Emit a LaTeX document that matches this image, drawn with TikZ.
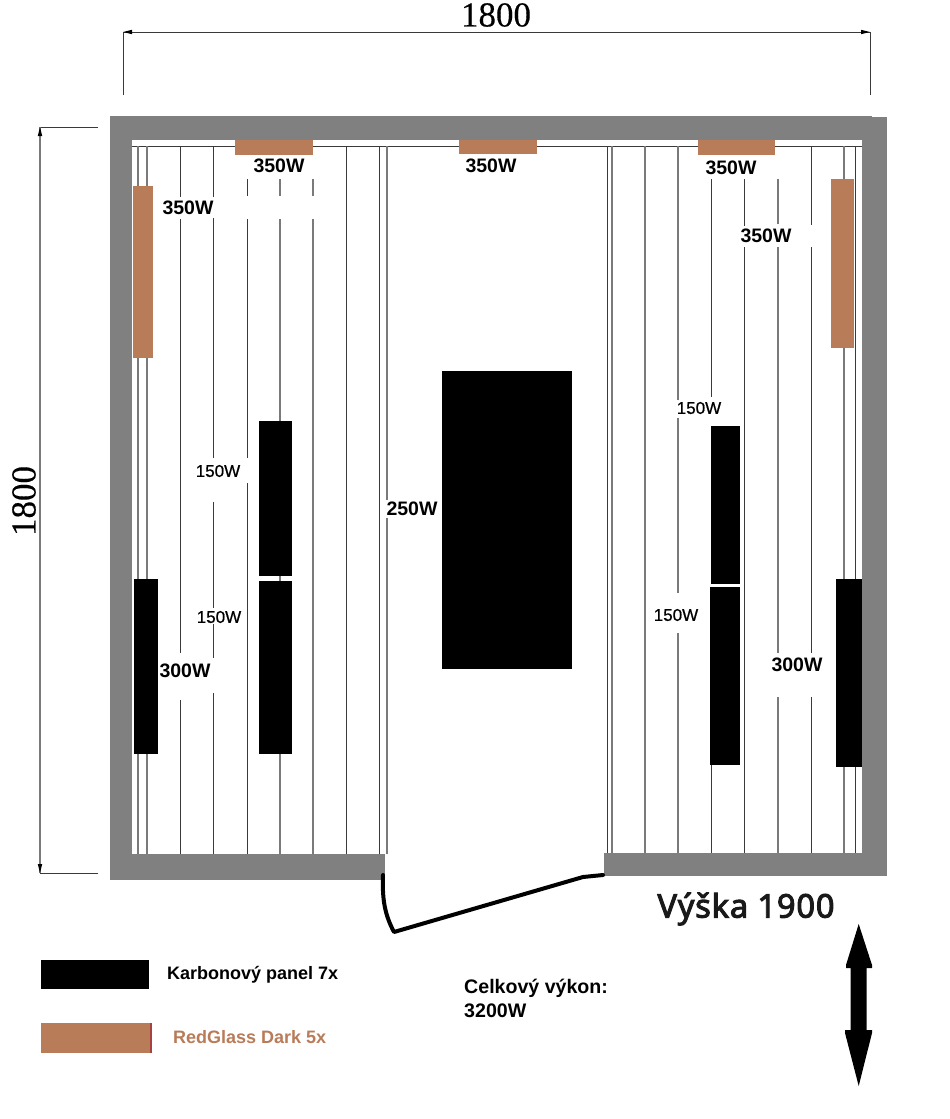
\documentclass[tikz,border=0pt]{standalone}
\usepackage{fontspec}
\setmainfont{Liberation Sans}
\newfontfamily\dimfont[FakeBold=0.4]{Liberation Serif}
\newfontfamily\heightfont[FakeBold=3,LetterSpace=2.5]{Noto Sans}
\newfontfamily\smallwatt[FakeBold=0.8]{Liberation Sans}
\definecolor{wallgray}{HTML}{808080}
\definecolor{copper}{HTML}{B97C59}
\definecolor{darkline}{HTML}{3A3A3A}
\definecolor{grayline}{HTML}{7A7A7A}
\tikzset{
  darkl/.style={draw=darkline,line width=1pt},
  grayl/.style={draw=grayline,line width=1.3pt},
  wall/.style={fill=wallgray,draw=none},
  redglass/.style={fill=copper,draw=none},
  carbon/.style={fill=black,draw=none},
  dimline/.style={draw=darkline,line width=0.9pt},
  tip/.style={fill=black,draw=none},
  wattb/.style={font=\fontsize{19.5}{22}\selectfont\bfseries,inner sep=0pt,text=black},
  wattr/.style={font=\fontsize{17}{20}\selectfont\smallwatt,inner sep=0pt,text=black},
  legend/.style={font=\fontsize{18}{24}\selectfont\bfseries,inner sep=0pt,anchor=west},
  dimtext/.style={font=\fontsize{35}{38}\selectfont\dimfont,inner sep=0pt}
}
\begin{document}
\begin{tikzpicture}[x=1pt,y=-1pt]
\useasboundingbox (0,0) rectangle (950,1119);
% slats, interrupted around labels
\draw[darkl] (132,146) -- (862,146);
\draw[grayl] (138,146)--(138,854);
\draw[grayl] (147,146)--(147,854);
\draw[darkl] (180,146)--(180,197) (180,219)--(180,653) (180,700)--(180,854);
\draw[darkl] (213,146)--(213,197) (213,218)--(213,458) (213,502)--(213,608) (213,624)--(213,658) (213,693)--(213,854);
\draw[darkl] (247,179)--(247,196) (247,219)--(247,458) (247,483)--(247,854);
\draw[grayl] (280,179)--(280,196) (280,219)--(280,854);
\draw[grayl] (313,179)--(313,196) (313,219)--(313,854);
\draw[darkl] (346,146)--(346,854);
\draw[darkl] (379,146)--(379,854);
\draw[grayl] (387,146)--(387,500) (387,518)--(387,854);
\draw[darkl] (607,146)--(607,853);
\draw[grayl] (612,146)--(612,853);
\draw[grayl] (645,146)--(645,853);
\draw[grayl] (678,146)--(678,400) (678,418)--(678,593) (678,633)--(678,853);
\draw[darkl] (711,179)--(711,397) (711,760)--(711,853);
\draw[darkl] (744,179)--(744,226) (744,247)--(744,853);
\draw[grayl] (778,179)--(778,224) (778,247)--(778,653) (778,697)--(778,853);
\draw[darkl] (811,146)--(811,225) (811,247)--(811,653) (811,697)--(811,853);
\draw[grayl] (844,146)--(844,853);
\draw[darkl] (855,146)--(855,853);
% walls
\fill[wall] (110,116) rectangle (872,140);
\fill[wall] (110,116) rectangle (132,880);
\fill[wall] (862,117) rectangle (887,876);
\fill[wall] (110,854) rectangle (385,880);
\fill[wall] (604,853) rectangle (887,876);
% RedGlass panels
\fill[redglass] (235,140) rectangle (313,155);
\fill[redglass] (459,140) rectangle (537,154);
\fill[redglass] (698,140) rectangle (775,155);
\fill[redglass] (133,186) rectangle (153,358);
\fill[redglass] (831,179) rectangle (854,348);
% carbon panels
\fill[carbon] (442,371) rectangle (572,669);
\fill[carbon] (259,421) rectangle (292,576);
\fill[carbon] (259,581) rectangle (292,754);
\fill[carbon] (134,579) rectangle (158,754);
\fill[carbon] (711,426) rectangle (740,584);
\fill[carbon] (710,587) rectangle (740,765);
\fill[carbon] (836,579) rectangle (862,767);
% door
\draw[line width=4pt,line cap=round,line join=round] (383,875) .. controls (382,900) and (385,915) .. (394,932) -- (583,877) -- (603,875);
% dimensions
\draw[dimline] (123,95)--(123,32)--(870,32)--(870,95);
\fill[tip] (123,32)--(132,29.8)--(132,34.2)--cycle;
\fill[tip] (870,32)--(861,29.8)--(861,34.2)--cycle;
\draw[dimline] (98,127)--(40,127);
\draw[dimline] (98,873)--(40,873);
\draw[draw=grayline,line width=1.3pt] (40,127)--(40,873);
\fill[tip] (40,127)--(37.8,136)--(42.2,136)--cycle;
\fill[tip] (40,873)--(37.8,864)--(42.2,864)--cycle;
\node[dimtext] (dimtop) at (496,15) {1800};
\node[dimtext,rotate=90] (dimleft) at (24,501) {1800};
% wattage labels
\node[wattb] (wa) at (279,166) {350W};
\node[wattb] (wb) at (491,166) {350W};
\node[wattb] (wc) at (731,168) {350W};
\node[wattb] (wd) at (188,208) {350W};
\node[wattb] (we) at (766,236) {350W};
\node[wattb] (wf) at (412,509) {250W};
\node[wattb] (wg) at (185,671) {300W};
\node[wattb] (wh) at (797,665) {300W};
\node[wattr] (wi) at (218,471) {150W};
\node[wattr] (wj) at (219,617) {150W};
\node[wattr] (wk) at (699,408) {150W};
\node[wattr] (wl) at (676,615) {150W};
% legend
\fill[carbon] (41,960) rectangle (149,989);
\fill[redglass] (41,1023) rectangle (150,1053);
\fill[fill=red!55!black,opacity=.75] (150,1023) rectangle (151.5,1053);
\node[legend] (lk) at (167,975) {Karbonový panel 7x};
\node[legend,text=copper] (lr) at (173,1037) {RedGlass Dark 5x};
\node[legend,align=left,anchor=north west,font=\fontsize{19.6}{24}\selectfont\bfseries] (total) at (464,979) {Celkový výkon:\\3200W};
\node[font=\fontsize{32.6}{36}\selectfont\heightfont,inner sep=0pt,text=black!90] (vy) at (746,909) {Výška 1900};
% height arrow
\fill[black] (858.7,924) -- (872,965) -- (872,968) -- (866.7,968) -- (866.7,1030) -- (872,1030) -- (872,1033) -- (858.7,1086) -- (845,1033) -- (845,1030) -- (850.7,1030) -- (850.7,968) -- (846,968) -- (846,965) -- cycle;
\end{tikzpicture}
\end{document}
